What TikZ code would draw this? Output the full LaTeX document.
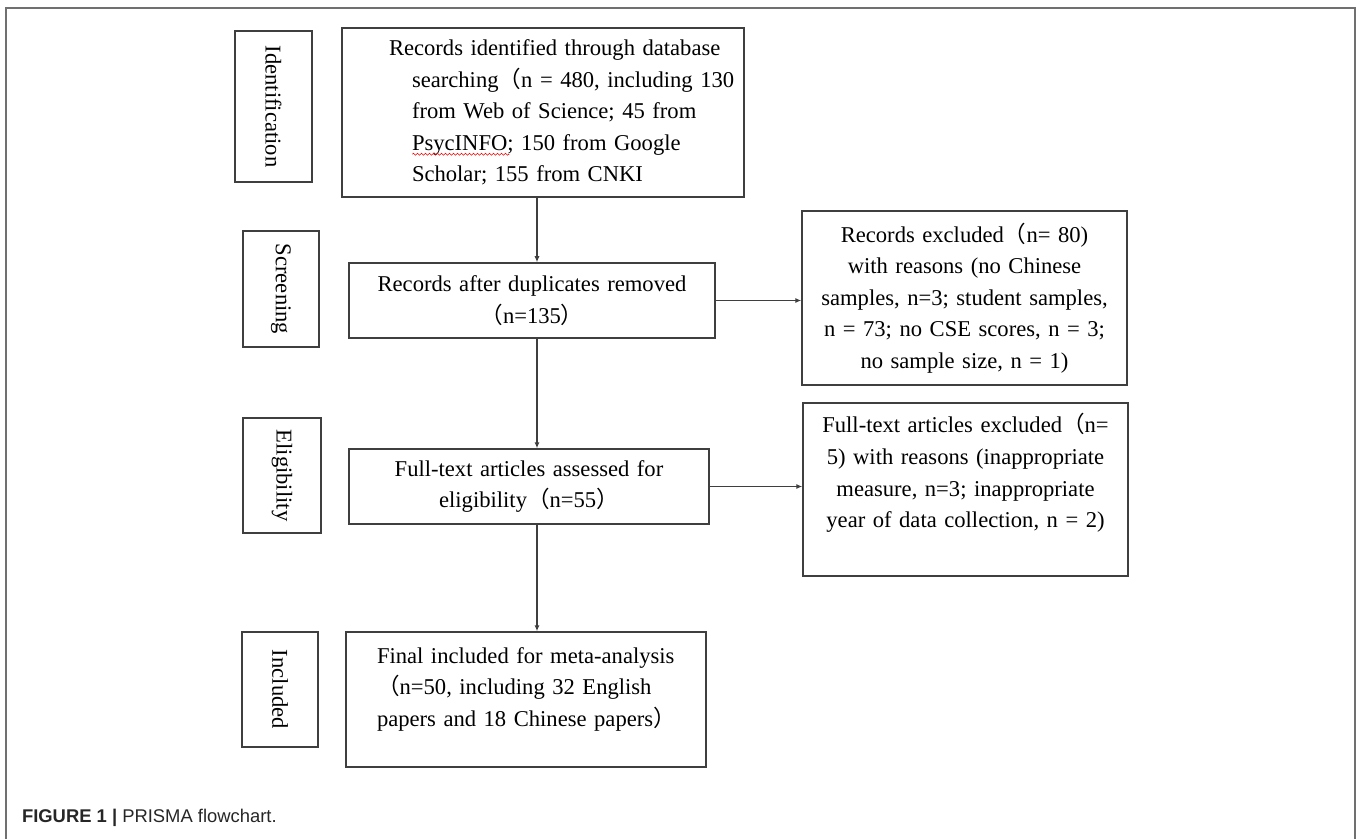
\documentclass[tikz,border=0pt]{standalone}
\usepackage{fontspec}
\setmainfont{Liberation Serif}
\setsansfont{Liberation Sans}
\newfontfamily\cjkfont{Noto Sans CJK SC}
\usetikzlibrary{arrows.meta, decorations.pathmorphing}

\definecolor{linegray}{HTML}{3F3F3F}
\definecolor{framegray}{HTML}{707070}

% full-width brackets
\newcommand\fwl{{\cjkfont （}}
\newcommand\fwr{{\cjkfont ）}}

\begin{document}
\begin{tikzpicture}[x=0.5pt, y=-0.5pt,
    box/.style={draw=linegray, line width=0.75pt, rectangle, inner sep=0pt,
      font=\fontsize{11.3}{15.8}\selectfont, text=black},
    phase/.style={box, rotate=-90},
    flow/.style={draw=linegray, line width=0.7pt, -{Latex[length=3pt,width=2.6pt]}},
    figframe/.style={draw=framegray, line width=0.8pt},
    spellwave/.style={draw=red, line width=0.3pt, decorate,
      decoration={snake, amplitude=0.45pt, segment length=2pt}}]
                \useasboundingbox (0,0) rectangle (1358,839);

                % Frame and caption
                \draw[figframe] (6,839) -- (6,8) -- (1355,8) -- (1355,839);
                \node[anchor=west, font=\sffamily\fontsize{9.2}{11}\selectfont, text=black!85] (caption) at (15,818)
                    {\textbf{FIGURE 1 |} PRISMA flowchart.};

                % Phase labels
                \node[phase, minimum width=75.5pt, minimum height=38.5pt] (idlab) at (273.5,106.5) {Identification};
                \node[phase, minimum width=58pt, minimum height=38pt] (scrlab) at (281,289) {Screening};
                \node[phase, minimum width=57.5pt, minimum height=39pt] (elilab) at (282,475.5) {Eligibility};
                \node[phase, minimum width=57.5pt, minimum height=38pt] (inclab) at (280,689.5) {Included};

                % Main column
                \node[box, text width=201pt, minimum height=84.5pt, align=left] (found) at (543,112.5)
                    {\leftskip=35pt\hspace*{-11.5pt}Records identified through database\\
                     searching\fwl n = 480, including 130\\
                     from Web of Science; 45 from\\
                     PsycINFO; 150 from Google\\
                     Scholar; 155 from CNKI\par};
                \draw[spellwave] ([shift={(71,127)}]found.north west) -- ([shift={(168,127)}]found.north west);
                \node[box, text width=183pt, minimum height=37.5pt, align=center] (dup) at (532,300.5)
                    {Records after duplicates removed\\ \fwl n=135\fwr};
                \node[box, text width=180pt, minimum height=37.5pt, align=center] (full) at (529,486.5)
                    {Full-text articles assessed for\\ eligibility\fwl n=55\fwr};
                \node[box, text width=180pt, minimum height=67.5pt, align=left] (final) at (526,699.5)
                    {\leftskip=15.5pt Final included for meta-analysis\\
                     \fwl n=50, including 32 English\\
                     papers and 18 Chinese papers\fwr\\[-3pt]\mbox{}\par};

                % Exclusions
                \node[box, text width=162.5pt, minimum height=87pt, align=center] (excl) at (964.5,298)
                    {Records excluded\fwl n= 80)\\ with reasons (no Chinese\\
                     samples, n=3; student samples,\\ n = 73; no CSE scores, n = 3;\\
                     no sample size, n = 1)};
                \node[box, text width=162.5pt, minimum height=86.5pt, align=center] (fexcl) at (965.5,489.5)
                    {Full-text articles excluded\fwl n=\\ 5) with reasons (inappropriate\\
                     measure, n=3; inappropriate\\ year of data collection, n = 2)\\[3pt]\mbox{}};

                % Arrows
                \coordinate (spine) at (537,0);
                \draw[flow] (found.south -| spine) -- (dup.north -| spine);
                \draw[flow] (dup.south -| spine) -- (full.north -| spine);
                \draw[flow] (full.south -| spine) -- (final.north -| spine);
                \draw[flow] (dup.east) -- (dup.east -| excl.west);
                \draw[flow] (full.east) -- (full.east -| fexcl.west);
            \end{tikzpicture}
\end{document}
